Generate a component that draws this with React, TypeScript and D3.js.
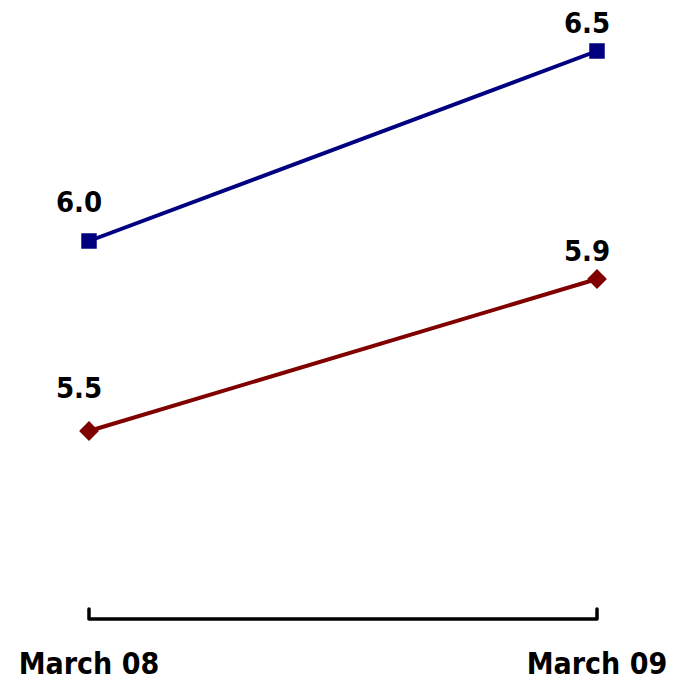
import React from "react";
import * as d3 from "d3";

// Survey periods and the two series plotted against them
const periods: string[] = ["March 08", "March 09"];
const blueValues: number[] = [6.0, 6.5];
const redValues: number[] = [5.5, 5.9];

const WIDTH = 677;
const HEIGHT = 683;
const FONT = "'DejaVu Sans Condensed', 'DejaVu Sans', sans-serif";

export default function App() {
  const x = d3.scalePoint<string>().domain(periods).range([89, 597]);
  const y = d3.scaleLinear().domain([5.0, 6.6]).range([621, 13]);

  const line = d3
    .line<number>()
    .x((_, i) => x(periods[i]) as number)
    .y((d) => y(d));

  const axisY = 619;
  const tickTop = 609;
  const x0 = x(periods[0]) as number;
  const x1 = x(periods[periods.length - 1]) as number;

  // labels of the first period sit higher above their markers than the last
  const labelDy = (i: number) => (i === 0 ? -29 : -18);
  const labelDx = -10;

  const diamond = d3.symbol().type(d3.symbolDiamond2).size(250)();
  const square = d3.symbol().type(d3.symbolSquare).size(240)();

  return (
    <svg
      width={WIDTH}
      height={HEIGHT}
      style={{ position: "absolute", left: 0, top: 0, background: "#fff" }}
      fontFamily={FONT}
    >
      {/* x axis with end ticks */}
      <path
        d={`M${x0},${tickTop}V${axisY}H${x1}V${tickTop}`}
        fill="none"
        stroke="#000"
        strokeWidth={3.5}
        strokeLinejoin="round"
        strokeLinecap="round"
      />
      {periods.map((p) => (
        <text
          key={p}
          x={x(p)}
          y={674}
          textAnchor="middle"
          fontSize={30}
          fontWeight="bold"
          fill="#000"
        >
          {p}
        </text>
      ))}

      {/* blue series */}
      <path d={line(blueValues) ?? ""} fill="none" stroke="#000080" strokeWidth={4} />
      {blueValues.map((v, i) => (
        <g key={`b${i}`}>
          <path d={square ?? ""} transform={`translate(${x(periods[i])},${y(v)})`} fill="#000080" />
          <text
            x={(x(periods[i]) as number) + labelDx}
            y={y(v) + labelDy(i)}
            textAnchor="middle"
            fontSize={29}
            fontWeight="bold"
            fill="#000"
          >
            {v.toFixed(1)}
          </text>
        </g>
      ))}

      {/* red series */}
      <path d={line(redValues) ?? ""} fill="none" stroke="#800000" strokeWidth={4} />
      {redValues.map((v, i) => (
        <g key={`r${i}`}>
          <path d={diamond ?? ""} transform={`translate(${x(periods[i])},${y(v)})`} fill="#800000" />
          <text
            x={(x(periods[i]) as number) + labelDx}
            y={y(v) + labelDy(i) - (i === 0 ? 4 : 0)}
            textAnchor="middle"
            fontSize={29}
            fontWeight="bold"
            fill="#000"
          >
            {v.toFixed(1)}
          </text>
        </g>
      ))}
    </svg>
  );
}
